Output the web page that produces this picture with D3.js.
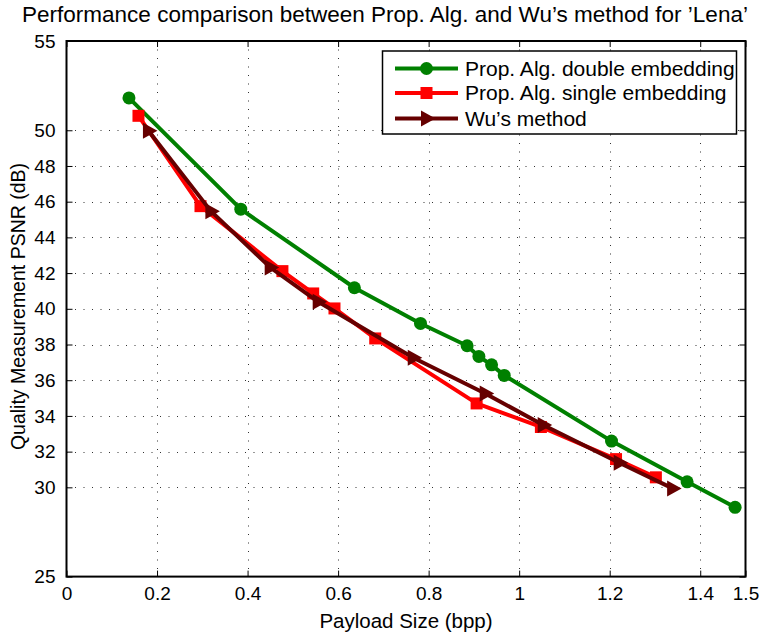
<!DOCTYPE html>
<html>
<head>
<meta charset="utf-8">
<script src="https://cdn.jsdelivr.net/npm/d3@7"></script>
<style>
  html, body { margin: 0; padding: 0; background: #fff; }
  svg { display: block; font-family: "Liberation Sans", Arial, Helvetica, sans-serif; }
</style>
</head>
<body>
<svg id="chart" width="764" height="638"></svg>
<script>
// PSNR vs payload for the Lena test image
const doubleX = [0.138, 0.385, 0.636, 0.782, 0.885, 0.911, 0.939, 0.967, 1.204, 1.371, 1.477];
const doubleY = [51.81, 45.58, 41.18, 39.18, 37.93, 37.33, 36.86, 36.27, 32.59, 30.31, 28.88];

const singleX = [0.159, 0.296, 0.477, 0.545, 0.592, 0.682, 0.906, 1.048, 1.214, 1.302];
const singleY = [50.81, 45.75, 42.11, 40.86, 40.02, 38.34, 34.70, 33.38, 31.58, 30.56];

const wuX = [0.181, 0.319, 0.450, 0.556, 0.766, 0.925, 1.053, 1.221, 1.339];
const wuY = [49.97, 45.47, 42.32, 40.39, 37.26, 35.26, 33.49, 31.38, 29.94];

const xTicks = [0, 0.2, 0.4, 0.6, 0.8, 1, 1.2, 1.4, 1.5];
const yTicks = [25, 30, 32, 34, 36, 38, 40, 42, 44, 46, 48, 50, 55];

const seriesNames = ["Prop. Alg. double embedding", "Prop. Alg. single embedding", "Wu\u2019s method"];
const seriesColors = ["#008000", "#ff0000", "#660000"];
const seriesMarkers = ["circle", "square", "triangle"];

const titleText = "Performance comparison between Prop. Alg. and Wu\u2019s method for \u2019Lena\u2019";
const xLabel = "Payload Size (bpp)";
const yLabel = "Quality Measurement PSNR (dB)";

const series = [
  { name: seriesNames[0], color: seriesColors[0], marker: seriesMarkers[0], pts: doubleX.map((x, i) => [x, doubleY[i]]) },
  { name: seriesNames[1], color: seriesColors[1], marker: seriesMarkers[1], pts: singleX.map((x, i) => [x, singleY[i]]) },
  { name: seriesNames[2], color: seriesColors[2], marker: seriesMarkers[2], pts: wuX.map((x, i) => [x, wuY[i]]) }
];

const svg = d3.select("#chart");
const L = 66.5, R = 745.5, T = 41, B = 576.6;

const x = d3.scaleLinear().domain([0, 1.5]).range([L, R]);
const y = d3.scaleLinear().domain([25, 55]).range([B, T]);

// dotted grid
const grid = svg.append("g").attr("stroke", "#333").attr("stroke-width", 1)
  .attr("stroke-dasharray", "1,7.5");
grid.selectAll(".gx").data(xTicks.filter(t => t > 0 && t < 1.5)).join("line")
  .attr("x1", d => Math.round(x(d)) + 0.5).attr("x2", d => Math.round(x(d)) + 0.5)
  .attr("y1", T).attr("y2", B);
grid.selectAll(".gy").data(yTicks.filter(t => t > 25 && t < 55)).join("line")
  .attr("y1", d => Math.round(y(d)) + 0.5).attr("y2", d => Math.round(y(d)) + 0.5)
  .attr("x1", L).attr("x2", R);

// axes with inward ticks on all four sides
const tickFont = 19;
const xAxisB = d3.axisBottom(x).tickValues(xTicks).tickSize(-6).tickPadding(9.5).tickFormat(d3.format("~g"));
const xAxisT = d3.axisTop(x).tickValues(xTicks).tickSize(-6).tickFormat("");
const yAxisL = d3.axisLeft(y).tickValues(yTicks).tickSize(-6).tickPadding(11).tickFormat(d3.format("~g"));
const yAxisR = d3.axisRight(y).tickValues(yTicks).tickSize(-6).tickFormat("");

function styleAxis(g) {
  g.select(".domain").remove();
  g.selectAll(".tick line").attr("stroke", "#000").attr("stroke-width", 1);
  g.selectAll(".tick text").attr("fill", "#000").attr("font-size", tickFont)
    .attr("font-family", "\"Liberation Sans\", Arial, sans-serif");
}
svg.append("g").attr("transform", `translate(0,${B})`).call(xAxisB).call(styleAxis);
svg.append("g").attr("transform", `translate(0,${T})`).call(xAxisT).call(styleAxis);
svg.append("g").attr("transform", `translate(${L},0)`).call(yAxisL).call(styleAxis);
svg.append("g").attr("transform", `translate(${R},0)`).call(yAxisR).call(styleAxis);

// axes box
svg.append("rect").attr("x", L).attr("y", T).attr("width", R - L).attr("height", B - T)
  .attr("fill", "none").attr("stroke", "#000").attr("stroke-width", 2);

// marker shapes
function drawMarker(g, type, color, cx, cy) {
  if (type === "circle") {
    g.append("circle").attr("cx", cx).attr("cy", cy).attr("r", 6.5).attr("fill", color);
  } else if (type === "square") {
    g.append("rect").attr("x", cx - 6).attr("y", cy - 6).attr("width", 12).attr("height", 12).attr("fill", color);
  } else {
    g.append("path").attr("d", `M${cx + 9},${cy} L${cx - 5.5},${cy - 8} L${cx - 5.5},${cy + 8} Z`).attr("fill", color);
  }
}

const line = d3.line().x(d => x(d[0])).y(d => y(d[1]));
series.forEach(s => {
  const g = svg.append("g");
  g.append("path").datum(s.pts).attr("d", line).attr("fill", "none")
    .attr("stroke", s.color).attr("stroke-width", 4).attr("stroke-linejoin", "round");
  s.pts.forEach(p => drawMarker(g, s.marker, s.color, x(p[0]), y(p[1])));
});

// legend
const lg = svg.append("g");
lg.append("rect").attr("x", 382.5).attr("y", 51).attr("width", 354).attr("height", 83)
  .attr("fill", "#fff").attr("stroke", "#000").attr("stroke-width", 1.5);
const rowY = [68.5, 93, 118.5];
series.forEach((s, i) => {
  lg.append("line").attr("x1", 395).attr("x2", 458).attr("y1", rowY[i]).attr("y2", rowY[i])
    .attr("stroke", s.color).attr("stroke-width", 4);
  drawMarker(lg, s.marker, s.color, 426.5, rowY[i]);
  lg.append("text").attr("x", 465).attr("y", rowY[i]).attr("dy", "0.35em")
    .attr("font-size", 21).attr("fill", "#000").text(s.name);
});

// title and axis labels
svg.append("text").attr("x", 385).attr("y", 14).attr("dy", "0.35em").attr("text-anchor", "middle")
  .attr("font-size", 22.5).attr("fill", "#000").text(titleText);
svg.append("text").attr("x", (L + R) / 2).attr("y", 621).attr("dy", "0.35em").attr("text-anchor", "middle")
  .attr("font-size", 20.5).attr("fill", "#000").text(xLabel);
svg.append("text").attr("transform", `translate(18.5,306.5) rotate(-90)`).attr("dy", "0.35em")
  .attr("text-anchor", "middle").attr("font-size", 19.5).attr("fill", "#000").text(yLabel);
</script>
</body>
</html>
